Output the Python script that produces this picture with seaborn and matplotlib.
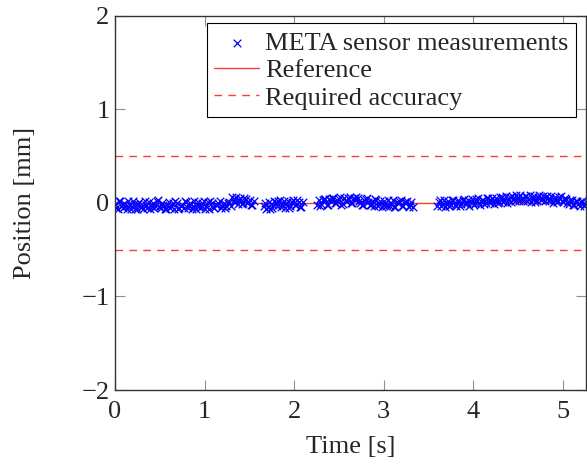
import numpy as np
import pandas as pd
import matplotlib
matplotlib.use("Agg")
import matplotlib.pyplot as plt
import seaborn as sns

# ── Data ─────────────────────────────────────────────────────────────────────
# measurement samples, read off the band segment by segment (two interleaved passes)
seg1_t = [0.00, 0.03, 0.06, 0.09, 0.12, 0.15, 0.18, 0.21, 0.24, 0.27,
          0.30, 0.33, 0.36, 0.39, 0.42, 0.45, 0.48, 0.51, 0.54, 0.57,
          0.60, 0.63, 0.66, 0.69, 0.72, 0.75, 0.78, 0.81, 0.84, 0.87,
          0.90, 0.93, 0.96, 0.99, 1.02, 1.05, 1.08, 1.11, 1.14, 1.17,
          1.20, 1.23, 1.26, 1.29]
seg1_y = [-0.01, -0.06, 0.02, -0.05, -0.03, 0.02, -0.06, -0.01, -0.07, 0.01,
          -0.04, 0.02, -0.05, -0.06, 0.00, -0.03, 0.03, -0.05, -0.02, -0.06,
          0.01, -0.03, -0.06, 0.00, -0.05, -0.02, 0.02, -0.05, 0.00, -0.03,
          -0.06, 0.01, -0.04, 0.02, -0.03, -0.06, 0.00, -0.05, -0.02, 0.02,
          -0.03, -0.05, 0.00, -0.03]
seg1b_t = [0.015, 0.045, 0.075, 0.105, 0.135, 0.165, 0.195, 0.225, 0.255, 0.285,
           0.315, 0.345, 0.375, 0.405, 0.435, 0.465, 0.495, 0.525, 0.555, 0.585,
           0.615, 0.645, 0.675, 0.705, 0.735, 0.765, 0.795, 0.825, 0.855, 0.885,
           0.915, 0.945, 0.975, 1.005, 1.035, 1.065, 1.095, 1.125, 1.155, 1.185,
           1.215, 1.245, 1.275]
seg1b_y = [-0.05, 0.02, -0.03, 0.00, -0.06, -0.02, 0.02, -0.06, -0.01, -0.04,
           -0.07, -0.02, 0.01, -0.03, -0.05, 0.02, -0.04, 0.00, -0.06, -0.02,
           -0.05, 0.00, 0.02, -0.06, -0.03, -0.05, 0.01, -0.02, -0.06, 0.02,
           -0.03, -0.05, 0.00, -0.06, 0.01, 0.02, -0.04, -0.02, 0.00, -0.05,
           0.00, -0.03, 0.01]

seg2_t = [1.31, 1.34, 1.37, 1.40, 1.43, 1.46, 1.49, 1.52, 1.55]
seg2_y = [0.06, 0.04, -0.01, 0.05, 0.00, 0.04, 0.01, -0.02, 0.02]
seg2b_t = [1.325, 1.355, 1.385, 1.415, 1.445, 1.475, 1.505, 1.535]
seg2b_y = [0.01, 0.06, 0.03, -0.01, 0.05, 0.00, 0.03, -0.02]

seg3_t = [1.66, 1.69, 1.72, 1.75, 1.78, 1.81, 1.84, 1.87, 1.90, 1.93,
          1.96, 1.99, 2.02, 2.05, 2.08]
seg3_y = [-0.03, -0.06, 0.01, -0.05, 0.02, -0.03, 0.03, -0.01, -0.05, 0.02,
          -0.03, 0.03, -0.02, 0.01, -0.04]
seg3b_t = [1.675, 1.705, 1.735, 1.765, 1.795, 1.825, 1.855, 1.885, 1.915, 1.945,
           1.975, 2.005, 2.035, 2.065, 2.095]
seg3b_y = [0.00, -0.04, -0.07, -0.02, 0.01, 0.02, -0.04, 0.02, -0.01, -0.05,
           0.01, -0.02, 0.03, -0.04, 0.01]

seg4_t = [2.26, 2.29, 2.32, 2.35, 2.38, 2.41, 2.44, 2.47, 2.50, 2.53,
          2.56, 2.59, 2.62, 2.65, 2.68, 2.71, 2.74, 2.77, 2.80, 2.83,
          2.86, 2.89, 2.92, 2.95, 2.98, 3.01, 3.04, 3.07, 3.10, 3.13,
          3.16, 3.19, 3.22, 3.25, 3.28, 3.31]
seg4_y = [-0.02, -0.03, 0.03, 0.04, -0.02, 0.02, 0.05, 0.00, 0.04, -0.02,
          0.05, 0.02, 0.06, 0.00, 0.03, 0.05, 0.00, -0.02, 0.04, 0.01,
          -0.02, -0.03, 0.03, -0.01, -0.04, 0.02, -0.02, -0.03, 0.03, -0.04,
          0.00, 0.03, -0.03, 0.01, -0.04, 0.01]
seg4b_t = [2.275, 2.305, 2.335, 2.365, 2.395, 2.425, 2.455, 2.485, 2.515, 2.545,
           2.575, 2.605, 2.635, 2.665, 2.695, 2.725, 2.755, 2.785, 2.815, 2.845,
           2.875, 2.905, 2.935, 2.965, 2.995, 3.025, 3.055, 3.085, 3.115, 3.145,
           3.175, 3.205, 3.235, 3.265, 3.295, 3.325]
seg4b_y = [0.03, -0.01, 0.04, -0.02, 0.04, 0.05, 0.00, 0.03, 0.06, -0.01,
           0.02, 0.05, 0.00, 0.05, 0.06, 0.02, -0.02, 0.03, 0.05, -0.02,
           0.02, 0.04, -0.03, 0.02, -0.02, -0.03, 0.03, -0.01, -0.04, 0.01,
           0.02, -0.03, 0.01, 0.02, -0.02, -0.04]

seg5_t = [3.60, 3.63, 3.66, 3.69, 3.72, 3.75, 3.78, 3.81, 3.84, 3.87,
          3.90, 3.93, 3.96, 3.99, 4.02, 4.05, 4.08, 4.11, 4.14, 4.17,
          4.20, 4.23, 4.26, 4.29, 4.32, 4.35, 4.38, 4.41, 4.44, 4.47,
          4.50, 4.53, 4.56, 4.59, 4.62, 4.65, 4.68, 4.71, 4.74, 4.77,
          4.80, 4.83, 4.86, 4.89, 4.92, 4.95, 4.98, 5.01, 5.04, 5.07,
          5.10, 5.13, 5.16, 5.19, 5.22, 5.25]
seg5_y = [-0.03, 0.03, -0.01, -0.04, 0.02, -0.02, 0.03, -0.03, 0.02, -0.01,
          0.04, 0.00, -0.03, 0.04, 0.00, 0.05, -0.02, 0.03, 0.00, 0.05,
          0.03, -0.01, 0.05, 0.01, 0.06, 0.03, 0.00, 0.06, 0.07, 0.02,
          0.05, 0.08, 0.02, 0.07, 0.04, 0.01, 0.07, 0.02, 0.08, 0.04,
          0.02, 0.07, 0.04, 0.00, 0.06, 0.02, 0.07, 0.01, 0.04, -0.01,
          0.03, -0.02, 0.02, -0.03, 0.02, -0.01]
seg5b_t = [3.615, 3.645, 3.675, 3.705, 3.735, 3.765, 3.795, 3.825, 3.855, 3.885,
           3.915, 3.945, 3.975, 4.005, 4.035, 4.065, 4.095, 4.125, 4.155, 4.185,
           4.215, 4.245, 4.275, 4.305, 4.335, 4.365, 4.395, 4.425, 4.455, 4.485,
           4.515, 4.545, 4.575, 4.605, 4.635, 4.665, 4.695, 4.725, 4.755, 4.785,
           4.815, 4.845, 4.875, 4.905, 4.935, 4.965, 4.995, 5.025, 5.055, 5.085,
           5.115, 5.145, 5.175, 5.205, 5.235, 5.265]
seg5b_y = [0.01, -0.03, 0.03, -0.01, -0.03, 0.03, -0.02, 0.02, -0.03, 0.03,
           -0.01, 0.03, 0.01, -0.02, 0.04, 0.00, 0.03, -0.01, 0.05, 0.00,
           0.05, 0.02, 0.00, 0.06, 0.01, 0.07, 0.03, 0.01, 0.05, 0.08,
           0.02, 0.05, 0.07, 0.02, 0.08, 0.04, 0.01, 0.06, 0.03, 0.07,
           0.06, 0.02, 0.07, 0.03, 0.01, 0.06, 0.02, 0.05, 0.00, 0.03,
           -0.02, 0.02, -0.01, 0.01, -0.03, 0.01]

ref_t   = [0.0, 5.3]
ref_pos = [0.0, 0.0]
accuracy = 0.5

x_ticks = [0, 1, 2, 3, 4, 5]
y_ticks = [-2, -1, 0, 1, 2]
y_tick_labels = ["\u22122", "\u22121", "0", "1", "2"]

meas = pd.DataFrame({
    "time": (seg1_t + seg1b_t + seg2_t + seg2b_t + seg3_t + seg3b_t
             + seg4_t + seg4b_t + seg5_t + seg5b_t),
    "pos":  (seg1_y + seg1b_y + seg2_y + seg2b_y + seg3_y + seg3b_y
             + seg4_y + seg4b_y + seg5_y + seg5b_y),
})
ref = pd.DataFrame({"time": ref_t, "pos": ref_pos})

# ── Plot ─────────────────────────────────────────────────────────────────────
sns.set_style("ticks")
plt.rcParams["font.family"] = ["Liberation Serif", "DejaVu Serif"]

FS = 19
red = "#ff3a3a"

fig = plt.figure(figsize=(5.87, 4.66), dpi=100)
ax = fig.add_axes([0.196, 0.163, 0.802, 0.803])

sns.lineplot(data=ref, x="time", y="pos", color=red, linewidth=1.0,
             ax=ax, label="Reference", zorder=1)
ax.axhline(accuracy, color=red, linestyle=(0, (5.5, 4.5)), linewidth=1.0,
           label="Required accuracy", zorder=1)
ax.axhline(-accuracy, color=red, linestyle=(0, (5.5, 4.5)), linewidth=1.0,
           zorder=1)
sns.scatterplot(data=meas, x="time", y="pos", marker="x", color="blue",
                s=30, linewidth=0.9, ax=ax, label="META sensor measurements",
                zorder=2)

ax.set_xlim(0, 5.26)
ax.set_ylim(-2, 2)
ax.set_xticks(x_ticks)
ax.set_yticks(y_ticks)
ax.set_yticklabels(y_tick_labels)
ax.set_xlabel("Time [s]", fontsize=FS, labelpad=9)
ax.set_ylabel("Position [mm]", fontsize=FS, labelpad=33)
ax.tick_params(direction="in", top=True, right=True, length=7, width=0.8,
               color="#909090", labelsize=FS)
ax.tick_params(axis="x", pad=8)
ax.tick_params(axis="y", pad=4)
for sp in ax.spines.values():
    sp.set_color("#333333")
    sp.set_linewidth(1.0)

h, l = ax.get_legend_handles_labels()
order = [l.index("META sensor measurements"), l.index("Reference"),
         l.index("Required accuracy")]
leg = ax.legend([h[i] for i in order], [l[i] for i in order],
                loc="upper right", fontsize=FS, frameon=True, fancybox=False,
                edgecolor="black", framealpha=1, borderpad=0.3,
                labelspacing=0.15, handlelength=1.7, handletextpad=0.22,
                borderaxespad=0.0, bbox_to_anchor=(0.98, 0.98))
leg.get_frame().set_linewidth(0.8)

fig.savefig("out.png", dpi=100)
plt.close(fig)
